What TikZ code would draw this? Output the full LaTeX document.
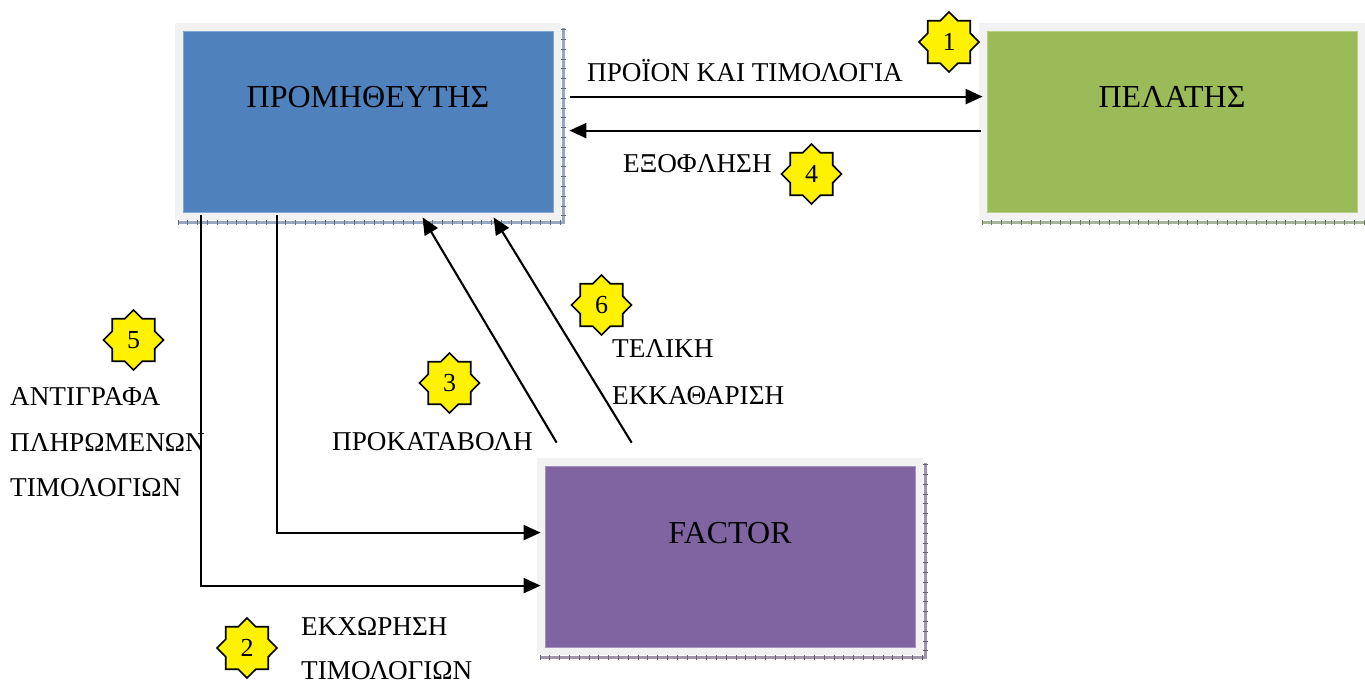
\documentclass[tikz,border=0pt]{standalone}
\usepackage{fontspec}
\setmainfont{Liberation Serif}
\usetikzlibrary{arrows.meta,backgrounds,calc}

\definecolor{supplierblue}{HTML}{4F81BD}
\definecolor{clientgreen}{HTML}{9BBB59}
\definecolor{factorpurple}{HTML}{8064A2}
\definecolor{framegray}{HTML}{F2F2F2}
\definecolor{blueshade}{HTML}{98A8C0}
\definecolor{greenshade}{HTML}{A8B59A}
\definecolor{purpleshade}{HTML}{9F94AB}

\tikzset{
  box/.style={inner sep=0pt, text width=370pt, align=center,
    text height=77pt, text depth=104pt, anchor=base,
    font=\fontsize{32}{38}\selectfont,
    draw=#1!70!white, line width=0.8pt, fill=#1},
  lbl/.style={anchor=base west, inner sep=0pt, font=\fontsize{27.2}{32}\selectfont},
  starline/.style={fill=yellow, draw=black, line width=1.7pt},
  digit/.style={inner sep=0pt, font=\fontsize{26}{30}\selectfont},
  arr/.style={line width=2.1pt, -{Triangle[length=17pt,width=15pt]}},
}

% light frame around a box plus a hatched shadow on its lower and right side
\newcommand\frameandshadow[2]{%
  \draw[#2, line width=3pt]
    ([shift={(-5,10)}]#1.south west) -- ([shift={(10,10)}]#1.south east)
    -- ([shift={(10,-3)}]#1.north east);
  \draw[#2!65!black, line width=5pt, dash pattern=on 0.8pt off 9pt]
    ([shift={(-5,10)}]#1.south west) -- ([shift={(10,10)}]#1.south east)
    -- ([shift={(10,-3)}]#1.north east);
  \fill[framegray] ([shift={(-8,-8)}]#1.north west)
    rectangle ([shift={(8,8)}]#1.south east);
}

% eight-pointed yellow star with a step number
\newcommand\stepbadge[3]{%
  \coordinate (#1) at (#2);
  \draw[starline] ($(#1)+(90:30)$)
    \foreach \a/\r in {112.5/23,135/30,157.5/23,180/30,202.5/23,225/30,
      247.5/23,270/30,292.5/23,315/30,337.5/23,0/30,22.5/23,45/30,67.5/23}
      { -- ($(#1)+(\a:\r)$) } -- cycle;
  \node[digit] (#1-num) at (#1) {#3};
}

\begin{document}
\begin{tikzpicture}[x=1pt, y=-1pt]
  \useasboundingbox (0,0) rectangle (1365,684);

  % boxes
  \node[box=supplierblue] (prom) at (368,108) {ΠΡΟΜΗΘΕΥΤΗΣ};
  \node[box=clientgreen]  (pel)  at (1172,108) {ΠΕΛΑΤΗΣ};
  \node[box=factorpurple] (fac)  at (730,543) {FACTOR};

  \begin{scope}[on background layer]
    \frameandshadow{prom}{blueshade}
    \frameandshadow{pel}{greenshade}
    \frameandshadow{fac}{purpleshade}
  \end{scope}

  % connector end points
  \coordinate (a1s) at ($(prom.north east)+(17,66)$);
  \coordinate (a1e) at ($(pel.north west)+(-4,66)$);
  \coordinate (a2s) at ($(pel.north west)+(-6,100)$);
  \coordinate (a2e) at ($(prom.north east)+(16,100)$);
  \coordinate (a3s) at ($(prom.south west)+(18,3)$);
  \coordinate (a3e) at ($(fac.north west)+(-4,120)$);
  \coordinate (a4s) at ($(prom.south west)+(94,3)$);
  \coordinate (a4e) at ($(fac.north west)+(-4,67)$);
  \coordinate (a5s) at ($(fac.north west)+(12,-23)$);
  \coordinate (a5e) at ($(prom.south west)+(240,5)$);
  \coordinate (a6s) at ($(fac.north west)+(87,-23)$);
  \coordinate (a6e) at ($(prom.south west)+(311,5)$);

  % connectors
  \draw[arr] (a1s) -- (a1e);
  \draw[arr] (a2s) -- (a2e);
  \draw[arr] (a3s) |- (a3e);
  \draw[arr] (a4s) |- (a4e);
  \draw[arr] (a5s) -- (a5e);
  \draw[arr] (a6s) -- (a6e);

  % labels
  \node[lbl] (l1)  at (587,82)  {ΠΡΟΪΟΝ ΚΑΙ ΤΙΜΟΛΟΓΙΑ};
  \node[lbl] (l4)  at (623,173) {ΕΞΟΦΛΗΣΗ};
  \node[lbl] (l5a) at (10,406)  {ΑΝΤΙΓΡΑΦΑ};
  \node[lbl] (l5b) at (10,451)  {ΠΛΗΡΩΜΕΝΩΝ};
  \node[lbl] (l5c) at (10,496)  {ΤΙΜΟΛΟΓΙΩΝ};
  \node[lbl] (l3)  at (332,450) {ΠΡΟΚΑΤΑΒΟΛΗ};
  \node[lbl] (l6a) at (612,358) {ΤΕΛΙΚΗ};
  \node[lbl] (l6b) at (612,404) {ΕΚΚΑΘΑΡΙΣΗ};
  \node[lbl] (l2a) at (301,635) {ΕΚΧΩΡΗΣΗ};
  \node[lbl] (l2b) at (301,679) {ΤΙΜΟΛΟΓΙΩΝ};

  % step numbers
  \stepbadge{s1}{949,42}{1}
  \stepbadge{s2}{247,648}{2}
  \stepbadge{s3}{449.5,383}{3}
  \stepbadge{s4}{811.5,174}{4}
  \stepbadge{s5}{133.5,340}{5}
  \stepbadge{s6}{601.5,305}{6}
\end{tikzpicture}
\end{document}
